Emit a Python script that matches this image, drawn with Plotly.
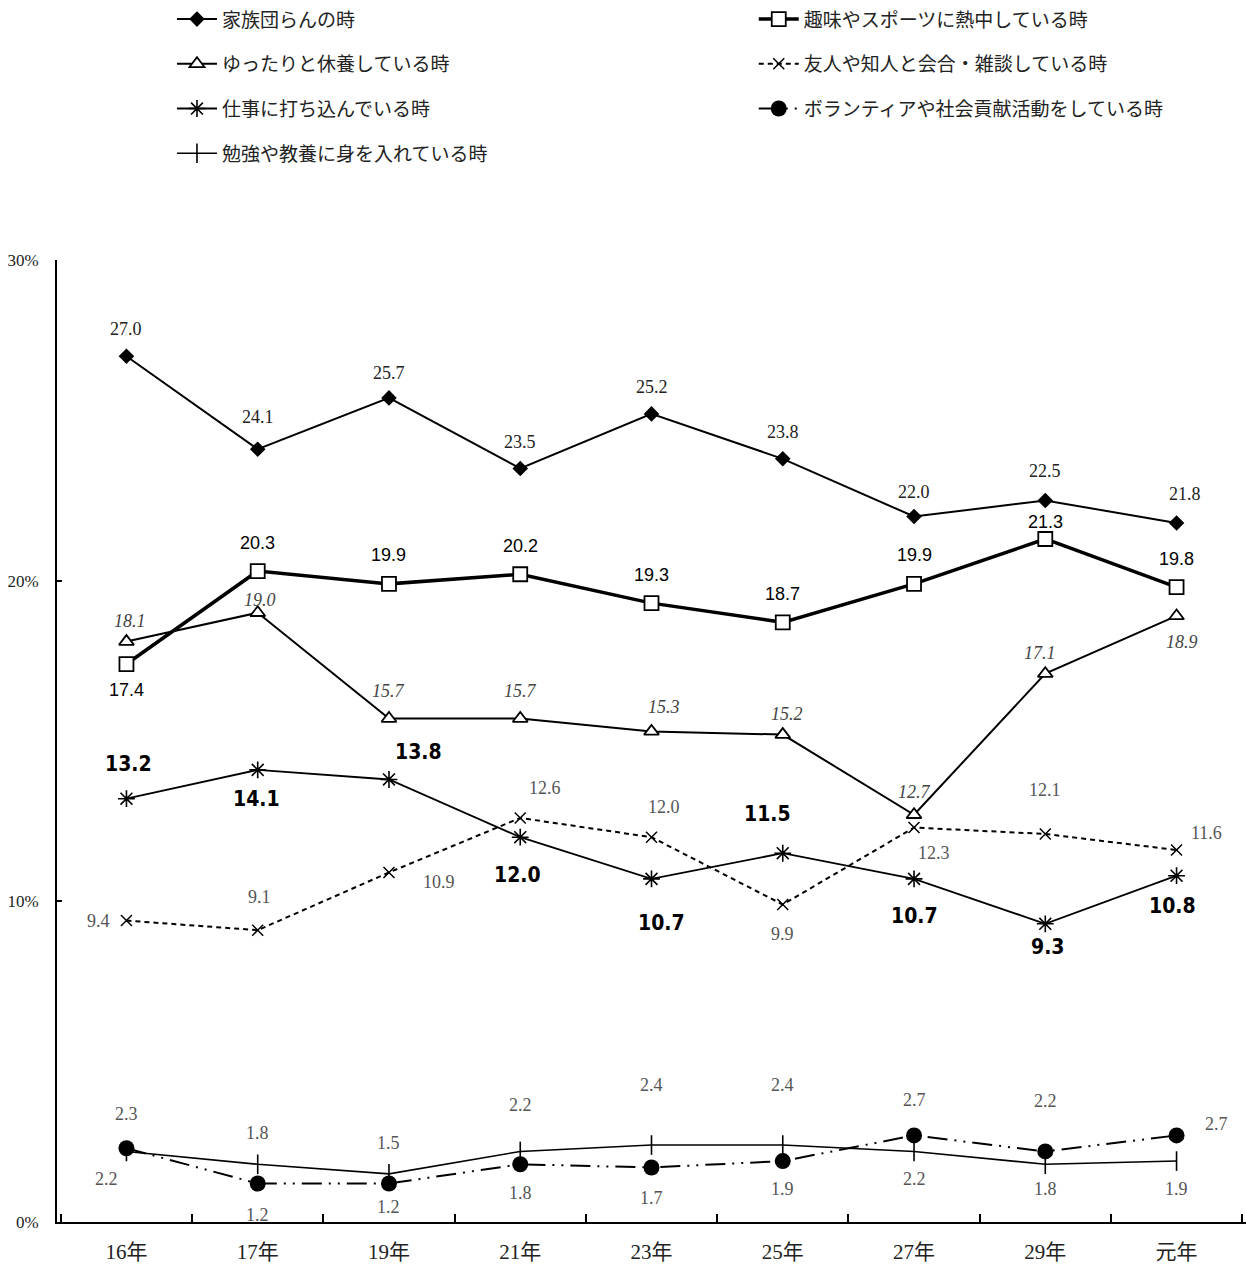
import plotly.graph_objects as go

# Survey years (x categories)
years = ["16年", "17年", "19年", "21年", "23年", "25年", "27年", "29年", "元年"]

# Share of respondents (%) for each answer
kazoku = [27.0, 24.1, 25.7, 23.5, 25.2, 23.8, 22.0, 22.5, 21.8]
shumi = [17.4, 20.3, 19.9, 20.2, 19.3, 18.7, 19.9, 21.3, 19.8]
yuttari = [18.1, 19.0, 15.7, 15.7, 15.3, 15.2, 12.7, 17.1, 18.9]
yujin = [9.4, 9.1, 10.9, 12.6, 12.0, 9.9, 12.3, 12.1, 11.6]
shigoto = [13.2, 14.1, 13.8, 12.0, 10.7, 11.5, 10.7, 9.3, 10.8]
volunteer = [2.3, 1.2, 1.2, 1.8, 1.7, 1.9, 2.7, 2.2, 2.7]
benkyo = [2.2, 1.8, 1.5, 2.2, 2.4, 2.4, 2.2, 1.8, 1.9]

y_ticks = [0, 10, 20, 30]
y_tick_text = ["0%", "10%", "20%", "30%"]

SERIF = "Liberation Serif, Noto Sans CJK JP, serif"
SANS = "Liberation Sans, Arial, sans-serif"
HEAVY = "DejaVu Sans Condensed, Liberation Sans Narrow, sans-serif"
JP = "Noto Sans CJK JP, sans-serif"

# label offsets in pixels (dx to the right, dy downward) for each point
series = [
    dict(name="家族団らんの時", values=kazoku, legend="legend",
         line=dict(color="black", width=2),
         marker=dict(symbol="diamond", size=12, color="black"),
         font=dict(family=SERIF, size=18, color="#222222"), fmt="{}",
         offs=[(0, -27), (0, -32), (0, -25), (0, -26), (0, -27), (0, -27), (0, -25), (0, -30), (8, -29)]),
    dict(name="ゆったりと休養している時", values=yuttari, legend="legend",
         line=dict(color="black", width=2),
         marker=dict(symbol="triangle-up", size=13, color="white", line=dict(color="black", width=1.8)),
         font=dict(family=SERIF, size=18, color="#444444"), fmt="<i>{}</i>",
         offs=[(4, -21), (2, -13), (0, -28), (0, -28), (12, -24), (4, -21), (0, -23), (-5, -21), (5, 26)]),
    dict(name="仕事に打ち込んでいる時", values=shigoto, legend="legend",
         line=dict(color="black", width=1.8),
         marker=dict(symbol="asterisk-open", size=14, color="black", line=dict(color="black", width=1.6)),
         font=dict(family=HEAVY, size=21, color="black", weight=900), fmt="{}",
         offs=[(2, -35), (-1, 29), (30, -27), (-3, 38), (10, 44), (-15, -39), (0, 37), (2, 23), (-4, 30)]),
    dict(name="勉強や教養に身を入れている時", values=benkyo, legend="legend",
         line=dict(color="black", width=1.6),
         marker=dict(symbol="line-ns-open", size=14, color="black", line=dict(color="black", width=1.6)),
         font=dict(family=SERIF, size=18, color="#555555"), fmt="{}",
         offs=[(-20, 28), (0, -31), (0, -31), (0, -46), (0, -60), (0, -60), (0, 28), (0, 25), (0, 28)]),
    dict(name="趣味やスポーツに熱中している時", values=shumi, legend="legend2",
         line=dict(color="black", width=3.5),
         marker=dict(symbol="square", size=14, color="white", line=dict(color="black", width=1.8)),
         font=dict(family=SANS, size=18, color="black"), fmt="{}",
         offs=[(0, 26), (0, -28), (0, -29), (0, -28), (0, -28), (0, -28), (0, -29), (0, -17), (0, -28)]),
    dict(name="友人や知人と会合・雑談している時", values=yujin, legend="legend2",
         line=dict(color="black", width=2, dash="5px,4px"),
         marker=dict(symbol="x-thin-open", size=11, color="black", line=dict(color="black", width=1.5)),
         font=dict(family=SERIF, size=18, color="#555555"), fmt="{}",
         offs=[(-28, 0), (2, -33), (50, 10), (25, -30), (12, -30), (0, 29), (20, 25), (0, -44), (30, -17)]),
    dict(name="ボランティアや社会貢献活動をしている時", values=volunteer, legend="legend2",
         line=dict(color="black", width=2, dash="20px,7px,2px,7px,2px,7px"),
         marker=dict(symbol="circle", size=16, color="black"),
         font=dict(family=SERIF, size=18, color="#555555"), fmt="{}",
         offs=[(0, -34), (0, 31), (0, 23), (0, 29), (0, 31), (0, 28), (0, -35), (0, -50), (40, -11)]),
]

fig = go.Figure()
annotations = []
for i, s in enumerate(series):
    fig.add_trace(go.Scatter(
        x=years, y=s["values"], name=s["name"], mode="lines+markers",
        line=s["line"], marker=s["marker"], legend=s["legend"],
        legendgroup=f"g{i}", cliponaxis=False,
    ))
    for x, v, (dx, dy) in zip(years, s["values"], s["offs"]):
        annotations.append(dict(
            x=x, y=v, xref="x", yref="y", text=s["fmt"].format(f"{v:.1f}"),
            showarrow=False, xshift=dx, yshift=-dy, font=s["font"],
        ))

legend_common = dict(
    orientation="v", yanchor="top", xanchor="left", bgcolor="rgba(0,0,0,0)",
    font=dict(family=JP, size=19, color="#222222"), tracegroupgap=17,
    itemwidth=40,
)
fig.update_layout(
    width=1246, height=1265,
    margin=dict(l=57, r=0, t=257, b=43),
    plot_bgcolor="white", paper_bgcolor="white",
    annotations=annotations,
    legend=dict(x=0.0967, y=1.27, **legend_common),
    legend2=dict(x=0.586, y=1.27, **legend_common),
    xaxis=dict(
        type="category", showline=True, linecolor="black", linewidth=2,
        ticks="inside", tickson="boundaries", ticklen=8, tickwidth=1.5, tickcolor="black",
        showgrid=False, zeroline=False, ticklabelstandoff=10,
        tickfont=dict(family=SERIF, size=21, color="#222222"),
    ),
    yaxis=dict(
        range=[0, 30], tickvals=y_ticks, ticktext=y_tick_text,
        showline=True, linecolor="black", linewidth=2,
        ticks="inside", ticklen=5, tickwidth=1.5, tickcolor="black",
        showgrid=False, zeroline=False, ticklabelstandoff=13,
        tickfont=dict(family=SERIF, size=17, color="#222222"),
    ),
)

fig.write_html("out.html")
